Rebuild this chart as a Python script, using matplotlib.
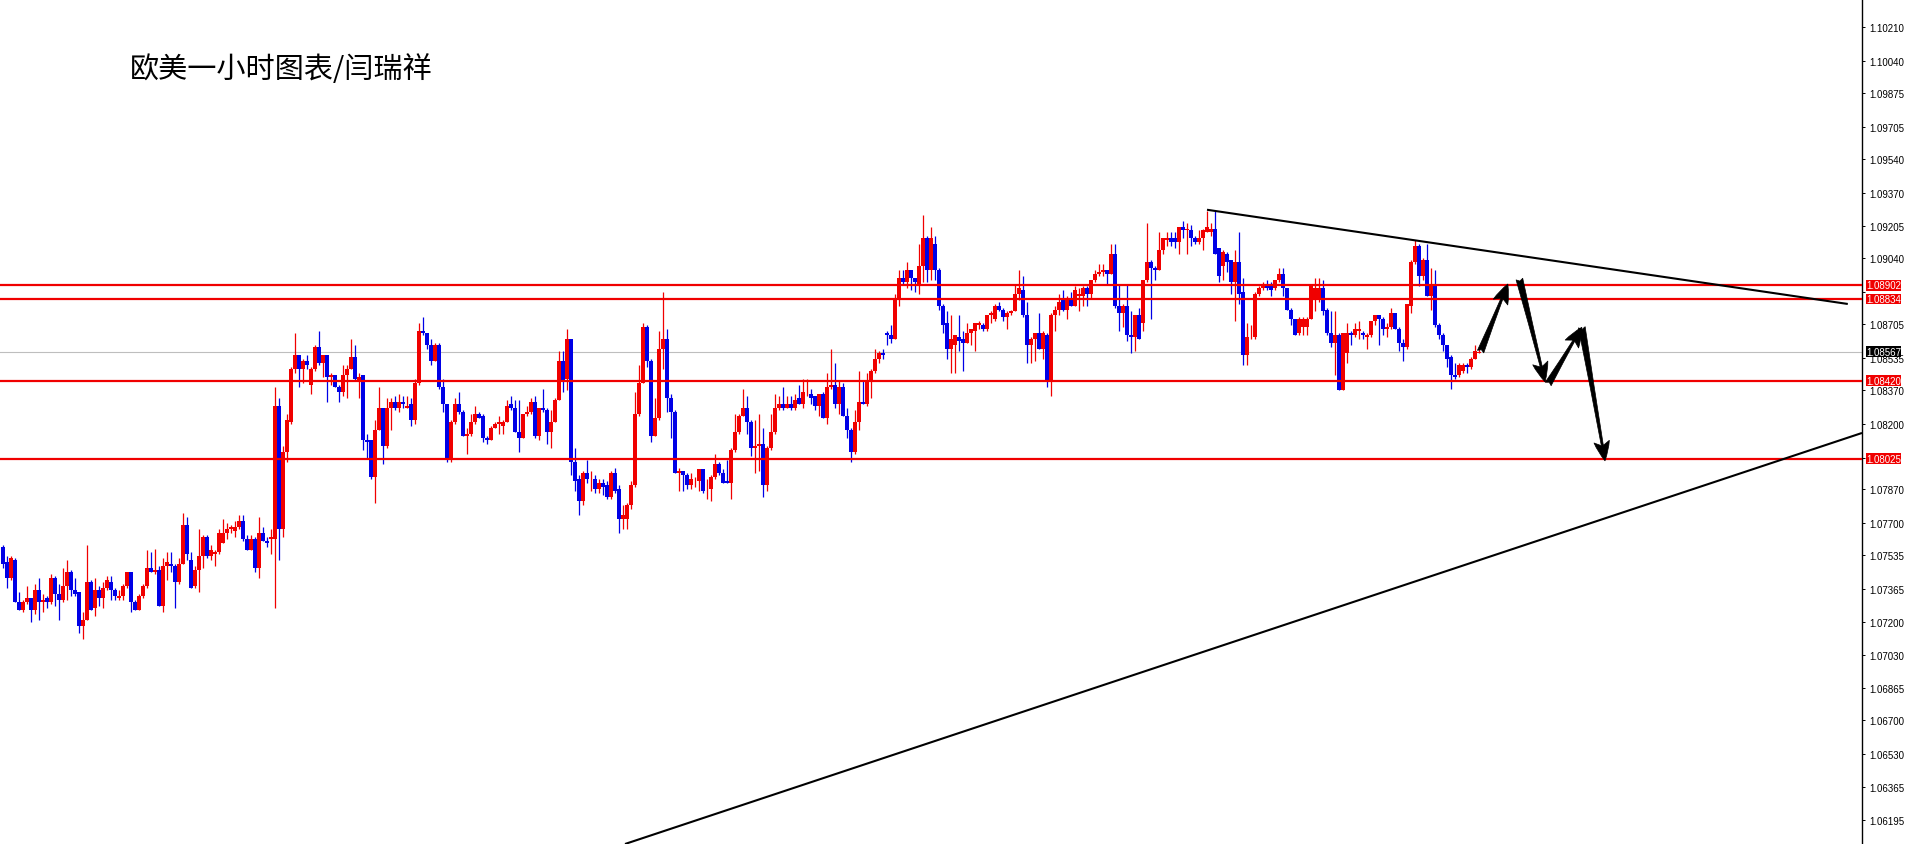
import numpy as np
import matplotlib
matplotlib.use("Agg")
import matplotlib.pyplot as plt
from matplotlib.transforms import blended_transform_factory

# ---------------- data (EURUSD 1h candles) ----------------
opens = [
 1.0758,1.0750,1.0742,1.0751,1.0730,1.0726,1.0730,1.0732,1.0726,1.0736,
 1.0730,1.0732,1.0730,1.0742,1.0734,1.0731,1.0738,1.0745,1.0736,1.0735,
 1.0718,1.0721,1.0740,1.0727,1.0736,1.0732,1.0737,1.0740,1.0736,1.0732,
 1.0733,1.0738,1.0745,1.0730,1.0726,1.0733,1.0738,1.0747,1.0745,1.0746,
 1.0728,1.0748,1.0749,1.0748,1.0740,1.0749,1.0769,1.0751,1.0738,1.0746,
 1.0753,1.0763,1.0753,1.0754,1.0755,1.0760,1.0765,1.0767,1.0766,1.0768,
 1.0771,1.0762,1.0756,1.0762,1.0747,1.0765,1.0761,1.0762,1.0762,1.0829,
 1.0767,1.0806,1.0821,1.0848,1.0855,1.0848,1.0852,1.0840,1.0848,1.0859,
 1.0851,1.0855,1.0844,1.0845,1.0839,1.0836,1.0845,1.0848,1.0854,1.0842,
 1.0845,1.0812,1.0812,1.0793,1.0817,1.0828,1.0809,1.0828,1.0831,1.0828,
 1.0831,1.0828,1.0830,1.0822,1.0841,1.0867,1.0866,1.0860,1.0852,1.0860,
 1.0839,1.0830,1.0802,1.0821,1.0830,1.0826,1.0814,1.0815,1.0821,1.0825,
 1.0824,1.0813,1.0812,1.0818,1.0820,1.0819,1.0821,1.0830,1.0828,1.0816,
 1.0813,1.0825,1.0826,1.0831,1.0814,1.0828,1.0827,1.0816,1.0821,1.0832,
 1.0852,1.0843,1.0863,1.0801,1.0792,1.0781,1.0795,1.0792,1.0792,1.0787,
 1.0790,1.0789,1.0783,1.0795,1.0787,1.0772,1.0772,1.0779,1.0789,1.0825,
 1.0841,1.0869,1.0852,1.0814,1.0823,1.0858,1.0863,1.0833,1.0826,1.0795,
 1.0796,1.0794,1.0789,1.0791,1.0791,1.0797,1.0787,1.0787,1.0793,1.0800,
 1.0795,1.0791,1.0790,1.0807,1.0816,1.0824,1.0828,1.0821,1.0808,1.0809,
 1.0810,1.0789,1.0808,1.0816,1.0828,1.0830,1.0828,1.0830,1.0828,1.0833,
 1.0830,1.0836,1.0835,1.0834,1.0829,1.0835,1.0823,1.0839,1.0840,1.0830,
 1.0839,1.0824,1.0817,1.0806,1.0821,1.0831,1.0830,1.0842,1.0847,1.0853,
 1.0856,1.0866,1.0865,1.0863,1.0884,1.0894,1.0892,1.0898,1.0894,1.0891,
 1.0900,1.0914,1.0898,1.0911,1.0898,1.0880,1.0871,1.0858,1.0860,1.0864,
 1.0863,1.0861,1.0866,1.0867,1.0870,1.0870,1.0868,1.0875,1.0873,1.0880,
 1.0878,1.0874,1.0876,1.0877,1.0886,1.0888,1.0875,1.0860,1.0863,1.0866,
 1.0858,1.0865,1.0842,1.0875,1.0878,1.0883,1.0878,1.0883,1.0880,1.0885,
 1.0885,1.0889,1.0886,1.0893,1.0896,1.0897,1.0898,1.0896,1.0906,1.0880,
 1.0876,1.0880,1.0865,1.0864,1.0875,1.0871,1.0893,1.0902,1.0899,1.0898,
 1.0908,1.0913,1.0914,1.0914,1.0912,1.0920,1.0918,1.0918,1.0914,1.0912,
 1.0914,1.0917,1.0917,1.0919,1.0909,1.0900,1.0906,1.0903,1.0892,1.0902,
 1.0887,1.0855,1.0864,1.0864,1.0886,1.0889,1.0891,1.0890,1.0889,1.0893,
 1.0896,1.0889,1.0878,1.0873,1.0866,1.0869,1.0869,1.0873,1.0883,1.0883,
 1.0889,1.0878,1.0866,1.0861,1.0865,1.0837,1.0856,1.0866,1.0865,1.0867,
 1.0866,1.0864,1.0865,1.0872,1.0875,1.0873,1.0868,1.0869,1.0876,1.0868,
 1.0861,1.0859,1.0880,1.0902,1.0910,1.0895,1.0903,1.0885,1.0890,1.0870,
 1.0865,1.0860,1.0854,1.0845,1.0845,1.0847,1.0850,1.0849,1.0853,1.0856,
]
highs = [
 1.0759,1.0753,1.0753,1.0752,1.0735,1.0731,1.0738,1.0732,1.0739,1.0742,
 1.0734,1.0733,1.0744,1.0743,1.0739,1.0747,1.0751,1.0746,1.0742,1.0735,
 1.0725,1.0759,1.0741,1.0742,1.0738,1.0740,1.0743,1.0743,1.0737,1.0736,
 1.0739,1.0745,1.0745,1.0731,1.0734,1.0739,1.0756,1.0755,1.0757,1.0748,
 1.0752,1.0755,1.0755,1.0749,1.0752,1.0775,1.0773,1.0755,1.0748,1.0767,
 1.0764,1.0764,1.0759,1.0756,1.0767,1.0772,1.0770,1.0769,1.0771,1.0774,
 1.0774,1.0764,1.0764,1.0763,1.0773,1.0768,1.0763,1.0767,1.0839,1.0833,
 1.0809,1.0825,1.0849,1.0866,1.0855,1.0853,1.0855,1.0849,1.0860,1.0867,
 1.0855,1.0855,1.0846,1.0845,1.0840,1.0850,1.0850,1.0863,1.0860,1.0846,
 1.0845,1.0815,1.0812,1.0822,1.0839,1.0828,1.0833,1.0833,1.0834,1.0835,
 1.0834,1.0834,1.0833,1.0843,1.0871,1.0874,1.0866,1.0863,1.0861,1.0861,
 1.0843,1.0830,1.0822,1.0833,1.0836,1.0827,1.0818,1.0825,1.0829,1.0826,
 1.0825,1.0814,1.0819,1.0821,1.0824,1.0822,1.0832,1.0834,1.0832,1.0832,
 1.0825,1.0829,1.0833,1.0834,1.0828,1.0838,1.0828,1.0827,1.0833,1.0857,
 1.0857,1.0868,1.0863,1.0808,1.0794,1.0796,1.0802,1.0796,1.0794,1.0792,
 1.0792,1.0791,1.0796,1.0798,1.0789,1.0779,1.0780,1.0791,1.0836,1.0850,
 1.0871,1.0870,1.0853,1.0833,1.0867,1.0887,1.0868,1.0835,1.0827,1.0798,
 1.0796,1.0795,1.0795,1.0793,1.0797,1.0797,1.0792,1.0794,1.0805,1.0801,
 1.0797,1.0802,1.0808,1.0825,1.0825,1.0838,1.0834,1.0822,1.0822,1.0825,
 1.0818,1.0809,1.0825,1.0835,1.0834,1.0839,1.0834,1.0834,1.0835,1.0840,
 1.0843,1.0843,1.0838,1.0834,1.0835,1.0836,1.0846,1.0858,1.0851,1.0842,
 1.0841,1.0828,1.0818,1.0827,1.0847,1.0842,1.0846,1.0848,1.0858,1.0857,
 1.0858,1.0867,1.0870,1.0886,1.0898,1.0898,1.0902,1.0898,1.0894,1.0911,
 1.0926,1.0915,1.0920,1.0915,1.0899,1.0881,1.0877,1.0875,1.0865,1.0875,
 1.0867,1.0871,1.0868,1.0871,1.0872,1.0871,1.0875,1.0877,1.0881,1.0882,
 1.0879,1.0877,1.0878,1.0891,1.0898,1.0895,1.0882,1.0864,1.0866,1.0876,
 1.0867,1.0866,1.0876,1.0880,1.0886,1.0888,1.0885,1.0887,1.0890,1.0889,
 1.0890,1.0890,1.0893,1.0898,1.0901,1.0901,1.0898,1.0911,1.0911,1.0891,
 1.0881,1.0891,1.0877,1.0875,1.0879,1.0893,1.0922,1.0903,1.0900,1.0917,
 1.0914,1.0917,1.0917,1.0917,1.0920,1.0923,1.0922,1.0921,1.0915,1.0918,
 1.0919,1.0928,1.0922,1.0928,1.0909,1.0908,1.0907,1.0903,1.0908,1.0917,
 1.0894,1.0871,1.0870,1.0887,1.0890,1.0892,1.0893,1.0892,1.0893,1.0899,
 1.0899,1.0889,1.0879,1.0873,1.0874,1.0874,1.0874,1.0890,1.0894,1.0894,
 1.0893,1.0879,1.0877,1.0877,1.0866,1.0866,1.0871,1.0867,1.0871,1.0872,
 1.0867,1.0866,1.0872,1.0875,1.0875,1.0874,1.0871,1.0879,1.0876,1.0869,
 1.0863,1.0881,1.0903,1.0913,1.0911,1.0904,1.0911,1.0899,1.0898,1.0871,
 1.0866,1.0860,1.0855,1.0851,1.0851,1.0851,1.0851,1.0854,1.0860,1.0858,
]
lows = [
 1.0747,1.0737,1.0741,1.0730,1.0726,1.0725,1.0729,1.0720,1.0724,1.0721,
 1.0725,1.0727,1.0729,1.0728,1.0721,1.0730,1.0731,1.0733,1.0733,1.0714,
 1.0711,1.0721,1.0726,1.0723,1.0728,1.0727,1.0736,1.0731,1.0731,1.0731,
 1.0731,1.0737,1.0725,1.0726,1.0726,1.0732,1.0737,1.0745,1.0744,1.0728,
 1.0725,1.0741,1.0745,1.0727,1.0739,1.0749,1.0751,1.0737,1.0737,1.0735,
 1.0747,1.0752,1.0751,1.0748,1.0754,1.0760,1.0762,1.0765,1.0763,1.0767,
 1.0761,1.0756,1.0756,1.0745,1.0742,1.0761,1.0758,1.0754,1.0727,1.0751,
 1.0763,1.0801,1.0820,1.0846,1.0839,1.0841,1.0848,1.0835,1.0847,1.0850,
 1.0844,1.0831,1.0840,1.0839,1.0831,1.0834,1.0833,1.0848,1.0842,1.0833,
 1.0807,1.0803,1.0792,1.0780,1.0817,1.0800,1.0808,1.0817,1.0827,1.0826,
 1.0828,1.0828,1.0819,1.0820,1.0840,1.0865,1.0858,1.0850,1.0852,1.0838,
 1.0826,1.0801,1.0801,1.0820,1.0825,1.0814,1.0805,1.0814,1.0820,1.0823,
 1.0811,1.0810,1.0812,1.0818,1.0815,1.0815,1.0821,1.0827,1.0816,1.0806,
 1.0813,1.0824,1.0825,1.0813,1.0812,1.0826,1.0810,1.0808,1.0821,1.0832,
 1.0836,1.0837,1.0794,1.0786,1.0774,1.0779,1.0790,1.0786,1.0785,1.0785,
 1.0784,1.0782,1.0782,1.0785,1.0765,1.0767,1.0767,1.0777,1.0788,1.0824,
 1.0841,1.0849,1.0811,1.0814,1.0822,1.0848,1.0826,1.0813,1.0795,1.0786,
 1.0786,1.0787,1.0787,1.0788,1.0786,1.0785,1.0782,1.0781,1.0792,1.0794,
 1.0790,1.0790,1.0782,1.0806,1.0815,1.0824,1.0815,1.0804,1.0795,1.0796,
 1.0783,1.0786,1.0807,1.0815,1.0827,1.0827,1.0828,1.0827,1.0827,1.0830,
 1.0828,1.0834,1.0830,1.0827,1.0824,1.0823,1.0820,1.0838,1.0828,1.0825,
 1.0824,1.0813,1.0801,1.0805,1.0817,1.0830,1.0829,1.0833,1.0846,1.0851,
 1.0853,1.0860,1.0861,1.0863,1.0880,1.0891,1.0889,1.0888,1.0887,1.0886,
 1.0892,1.0892,1.0893,1.0893,1.0878,1.0866,1.0853,1.0846,1.0846,1.0857,
 1.0847,1.0861,1.0860,1.0857,1.0868,1.0867,1.0867,1.0871,1.0872,1.0877,
 1.0872,1.0868,1.0875,1.0877,1.0883,1.0874,1.0851,1.0851,1.0852,1.0858,
 1.0853,1.0839,1.0834,1.0867,1.0875,1.0877,1.0873,1.0880,1.0880,1.0877,
 1.0880,1.0880,1.0884,1.0892,1.0895,1.0895,1.0891,1.0896,1.0879,1.0867,
 1.0869,1.0862,1.0856,1.0857,1.0863,1.0867,1.0892,1.0873,1.0893,1.0898,
 1.0906,1.0910,1.0910,1.0909,1.0906,1.0914,1.0906,1.0910,1.0911,1.0911,
 1.0908,1.0917,1.0915,1.0906,1.0892,1.0893,1.0897,1.0886,1.0872,1.0881,
 1.0850,1.0850,1.0863,1.0863,1.0885,1.0888,1.0888,1.0885,1.0888,1.0892,
 1.0885,1.0878,1.0870,1.0865,1.0865,1.0865,1.0865,1.0873,1.0877,1.0882,
 1.0875,1.0865,1.0859,1.0845,1.0837,1.0837,1.0851,1.0860,1.0864,1.0863,
 1.0863,1.0858,1.0864,1.0870,1.0860,1.0865,1.0864,1.0868,1.0868,1.0857,
 1.0852,1.0858,1.0876,1.0901,1.0890,1.0893,1.0885,1.0878,1.0869,1.0863,
 1.0857,1.0849,1.0838,1.0843,1.0844,1.0846,1.0846,1.0848,1.0853,1.0856,
]
closes = [
 1.0749,1.0742,1.0752,1.0730,1.0726,1.0730,1.0732,1.0726,1.0736,1.0730,
 1.0731,1.0730,1.0742,1.0734,1.0731,1.0738,1.0745,1.0736,1.0734,1.0718,
 1.0721,1.0740,1.0726,1.0736,1.0732,1.0737,1.0741,1.0736,1.0733,1.0733,
 1.0738,1.0745,1.0730,1.0726,1.0733,1.0738,1.0747,1.0745,1.0746,1.0728,
 1.0748,1.0750,1.0748,1.0740,1.0749,1.0769,1.0754,1.0737,1.0746,1.0753,
 1.0763,1.0753,1.0756,1.0755,1.0765,1.0765,1.0767,1.0768,1.0768,1.0771,
 1.0762,1.0756,1.0762,1.0747,1.0765,1.0761,1.0760,1.0763,1.0829,1.0767,
 1.0806,1.0822,1.0848,1.0855,1.0848,1.0852,1.0850,1.0848,1.0859,1.0851,
 1.0855,1.0844,1.0845,1.0839,1.0836,1.0845,1.0848,1.0854,1.0843,1.0844,
 1.0812,1.0811,1.0793,1.0817,1.0828,1.0809,1.0828,1.0831,1.0828,1.0831,
 1.0830,1.0829,1.0822,1.0841,1.0867,1.0866,1.0860,1.0852,1.0860,1.0839,
 1.0830,1.0802,1.0821,1.0830,1.0826,1.0814,1.0815,1.0821,1.0825,1.0823,
 1.0813,1.0812,1.0818,1.0820,1.0821,1.0821,1.0829,1.0828,1.0816,1.0813,
 1.0825,1.0826,1.0831,1.0814,1.0828,1.0827,1.0816,1.0821,1.0832,1.0852,
 1.0842,1.0863,1.0801,1.0791,1.0781,1.0795,1.0792,1.0792,1.0787,1.0790,
 1.0788,1.0783,1.0795,1.0786,1.0772,1.0774,1.0779,1.0789,1.0825,1.0841,
 1.0869,1.0852,1.0814,1.0823,1.0858,1.0863,1.0833,1.0826,1.0795,1.0796,
 1.0794,1.0789,1.0792,1.0791,1.0797,1.0786,1.0787,1.0793,1.0800,1.0795,
 1.0790,1.0790,1.0807,1.0816,1.0824,1.0828,1.0821,1.0808,1.0809,1.0810,
 1.0789,1.0808,1.0816,1.0828,1.0830,1.0828,1.0830,1.0828,1.0832,1.0830,
 1.0836,1.0836,1.0833,1.0829,1.0835,1.0823,1.0839,1.0840,1.0830,1.0839,
 1.0824,1.0817,1.0806,1.0821,1.0831,1.0830,1.0842,1.0847,1.0853,1.0856,
 1.0855,1.0865,1.0863,1.0884,1.0894,1.0892,1.0898,1.0894,1.0892,1.0900,
 1.0914,1.0898,1.0914,1.0898,1.0880,1.0870,1.0858,1.0863,1.0865,1.0862,
 1.0861,1.0866,1.0868,1.0871,1.0871,1.0868,1.0875,1.0876,1.0880,1.0878,
 1.0874,1.0876,1.0877,1.0886,1.0889,1.0875,1.0860,1.0863,1.0866,1.0858,
 1.0866,1.0842,1.0875,1.0878,1.0882,1.0878,1.0884,1.0880,1.0888,1.0886,
 1.0889,1.0886,1.0893,1.0896,1.0897,1.0898,1.0896,1.0906,1.0880,1.0876,
 1.0880,1.0865,1.0864,1.0875,1.0863,1.0893,1.0902,1.0899,1.0898,1.0908,
 1.0914,1.0914,1.0912,1.0912,1.0920,1.0918,1.0919,1.0914,1.0912,1.0914,
 1.0918,1.0920,1.0919,1.0906,1.0895,1.0907,1.0902,1.0892,1.0902,1.0886,
 1.0855,1.0864,1.0864,1.0886,1.0889,1.0891,1.0889,1.0888,1.0893,1.0896,
 1.0889,1.0878,1.0873,1.0865,1.0873,1.0873,1.0873,1.0890,1.0889,1.0889,
 1.0877,1.0866,1.0861,1.0865,1.0837,1.0866,1.0866,1.0865,1.0868,1.0868,
 1.0865,1.0865,1.0872,1.0875,1.0873,1.0868,1.0869,1.0876,1.0868,1.0861,
 1.0859,1.0881,1.0902,1.0910,1.0895,1.0903,1.0885,1.0890,1.0870,1.0865,
 1.0860,1.0853,1.0845,1.0844,1.0850,1.0850,1.0849,1.0853,1.0857,1.08567,
]

# support / resistance levels and current price
level_values = [1.08902, 1.08834, 1.08420, 1.08025]
current_price = 1.08567

# price axis tick values (MT4 style); labels hidden behind the price boxes are blank
tick_values = [1.10210, 1.10040, 1.09875, 1.09705, 1.09540, 1.09370, 1.09205,
               1.09040, 1.08870, 1.08705, 1.08535, 1.08370, 1.08200, 1.08030,
               1.07870, 1.07700, 1.07535, 1.07365, 1.07200, 1.07030, 1.06865,
               1.06700, 1.06530, 1.06365, 1.06195]
hidden_ticks = [1.08870, 1.08030]

# trend lines (bar index, price)
upper_trend_x = [301.0, 461.2]
upper_trend_y = [1.09285, 1.08808]
lower_trend_x = [155.5, 464.75]
lower_trend_y = [1.06074, 1.08155]

# projected path arrows: (start index, start price, tip index, tip price)
arrow_start_x = [369.4, 379.1, 386.3, 394.7]
arrow_start_y = [1.08567, 1.08934, 1.08403, 1.08690]
arrow_tip_x = [376.2, 385.5, 394.7, 400.5]
arrow_tip_y = [1.08909, 1.08414, 1.08690, 1.08014]

title_text = "欧美一小时图表/闫瑞祥"

# ---------------- figure ----------------
W, H, DPI = 1910, 845, 100
fig = plt.figure(figsize=(W / DPI, H / DPI), dpi=DPI)
fig.patch.set_facecolor("white")
plot_right_px = 1862
ax = fig.add_axes([0, 0, plot_right_px / W, 1])
ax.set_facecolor("white")

o = np.array(opens); h = np.array(highs); l = np.array(lows); c = np.array(closes)
n = len(o)
x = np.arange(n)
h = np.maximum(h, np.maximum(o, c))
l = np.minimum(l, np.minimum(o, c))
up = c >= o
RED = "#F00000"
BLUE = "#0000E6"
cols = np.where(up, RED, BLUE)

ax.vlines(x, l, h, colors=cols, linewidth=0.9, zorder=3)
body_low = np.minimum(o, c)
body_h = np.maximum(np.abs(c - o), 0.00003)
ax.bar(x, body_h, bottom=body_low, width=0.8, color=cols, linewidth=0, zorder=4)

# horizontal lines
ax.axhline(current_price, color="#BEBEBE", linewidth=0.8, zorder=2)
for v in level_values:
    ax.axhline(v, color="#F00000", linewidth=1.6, zorder=5)

# trend lines
ax.plot(upper_trend_x, upper_trend_y, color="black", linewidth=1.5, zorder=6,
        solid_capstyle="butt")
ax.plot(lower_trend_x, lower_trend_y, color="black", linewidth=1.5, zorder=6,
        solid_capstyle="butt")

# arrows
for sx, sy, tx, ty in zip(arrow_start_x, arrow_start_y, arrow_tip_x, arrow_tip_y):
    ax.annotate("", xy=(tx, ty), xytext=(sx, sy),
                arrowprops=dict(arrowstyle="fancy,head_length=1.0,head_width=0.8,tail_width=0.35",
                                fc="black", ec="black", lw=0.5,
                                mutation_scale=14, shrinkA=0, shrinkB=0),
                zorder=7)

# limits: bar i at pixel 3 + 4*i
ax.set_xlim((0 - 3) / 4.0, (plot_right_px - 3) / 4.0)
ax.set_ylim(1.06074, 1.10352)

# axes styling
for s in ["top", "left", "bottom"]:
    ax.spines[s].set_visible(False)
ax.spines["right"].set_color("black")
ax.spines["right"].set_linewidth(1.0)
ax.set_xticks([])
ax.yaxis.tick_right()
ax.set_yticks(tick_values)
ax.set_yticklabels(["" if v in hidden_ticks else f"{v:.5f}" for v in tick_values])
ax.tick_params(axis="y", direction="out", length=2.5, width=0.7, pad=2.5,
               labelsize=7, colors="black")
for lbl in ax.get_yticklabels():
    lbl.set_fontfamily("Liberation Sans")

# price labels on the axis
tr = blended_transform_factory(ax.transAxes, ax.transData)
xlab = 1866 / plot_right_px
for v in level_values:
    ax.text(xlab, v, f"{v:.5f}", transform=tr, ha="left", va="center",
            fontsize=7, family="Liberation Sans", color="white", clip_on=False,
            zorder=10,
            bbox=dict(boxstyle="square,pad=0.03", fc="#F00000", ec="none"))
ax.text(xlab, current_price, f"{current_price:.5f}", transform=tr, ha="left",
        va="center", fontsize=7, family="Liberation Sans", color="white",
        clip_on=False, zorder=10,
        bbox=dict(boxstyle="square,pad=0.03", fc="black", ec="none"))

# title
ax.text(130 / plot_right_px, 1 - 70 / H, title_text, transform=ax.transAxes,
        fontsize=21, family=["Noto Sans CJK SC", "DejaVu Sans"], color="black",
        ha="left", va="center", zorder=10)

fig.savefig("out.png", dpi=DPI, facecolor="white")
